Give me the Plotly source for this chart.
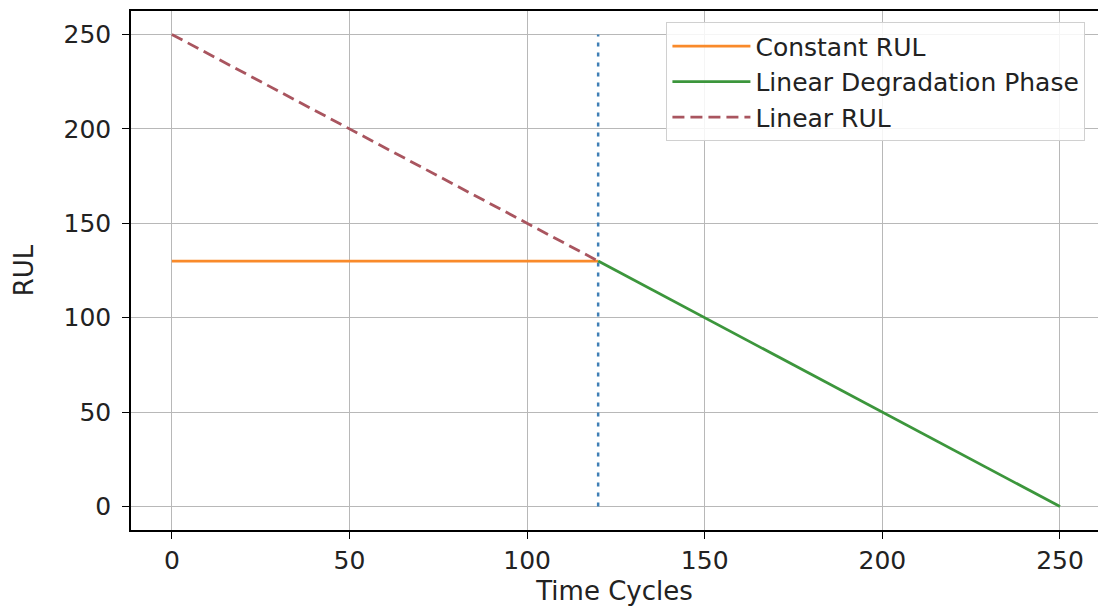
import plotly.graph_objects as go

# Data
const_time = [0, 120]
const_rul = [130, 130]
deg_time = [120, 250]
deg_rul = [130, 0]
linrul_time = [0, 120]
linrul_rul = [250, 130]
change_time = [120, 120]
change_rul = [0, 250]
x_ticks = [0, 50, 100, 150, 200, 250]
y_ticks = [0, 50, 100, 150, 200, 250]

fig = go.Figure()
fig.add_trace(go.Scatter(x=change_time, y=change_rul, mode="lines", showlegend=False,
                         line=dict(color="#3f7fb5", width=2.5, dash="4px,6px")))
fig.add_trace(go.Scatter(x=const_time, y=const_rul, mode="lines", name="Constant RUL",
                         line=dict(color="#f98a2a", width=2.8)))
fig.add_trace(go.Scatter(x=deg_time, y=deg_rul, mode="lines", name="Linear Degradation Phase",
                         line=dict(color="#3c963c", width=2.8)))
fig.add_trace(go.Scatter(x=linrul_time, y=linrul_rul, mode="lines", name="Linear RUL",
                         line=dict(color="#a9555f", width=2.8, dash="12px,6px")))

axis_common = dict(
    showline=True, linecolor="black", linewidth=1.5,
    showgrid=True, gridcolor="#b8b8b8", gridwidth=1,
    ticks="outside", ticklen=7, tickcolor="black", tickwidth=1.2,
    zeroline=False,
    tickfont=dict(family="DejaVu Sans", size=25, color="#222222"),
    title_font=dict(family="DejaVu Sans", size=26, color="#222222"),
)

fig.update_layout(
    width=1098, height=607,
    margin=dict(l=131, r=0, t=11, b=77),
    paper_bgcolor="white", plot_bgcolor="white",
    xaxis=dict(range=[-11.5, 260.7], tickvals=x_ticks, mirror=True,
               title=dict(text="Time Cycles", standoff=8), **axis_common),
    yaxis=dict(range=[-12.4, 262.4], tickvals=y_ticks, mirror=False,
               title=dict(text="RUL", standoff=22),
               ticklabelstandoff=6, **axis_common),
    legend=dict(x=0.987, y=0.978, xanchor="right", yanchor="top", itemwidth=78,
                bgcolor="rgba(255,255,255,0.85)", bordercolor="#d0d0d0", borderwidth=1,
                font=dict(family="DejaVu Sans", size=25, color="#222222")),
    showlegend=True,
)

fig.write_html("out.html")
